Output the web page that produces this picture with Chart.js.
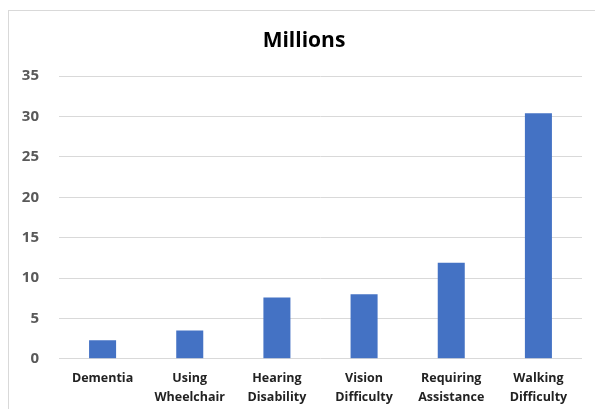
<!DOCTYPE html>
<html>
<head>
<meta charset="utf-8">
<script src="https://cdn.jsdelivr.net/npm/chart.js@4"></script>
<style>
  html, body { margin: 0; padding: 0; background: #fff; }
  #wrap { position: relative; width: 595px; height: 409px; overflow: hidden; }
  #frame { position: absolute; left: 8px; top: 10px; width: 620px; height: 440px;
           border-top: 1px solid #d9d9d9; border-left: 1px solid #d9d9d9; }
  canvas { position: absolute; left: 0; top: 0; }
</style>
</head>
<body>
<div id="wrap">
  <div id="frame"></div>
  <canvas id="chart" width="595" height="409"></canvas>
</div>
<script>
const categories = [
  ["Dementia"],
  ["Using", "Wheelchair"],
  ["Hearing", "Disability"],
  ["Vision", "Difficulty"],
  ["Requiring", "Assistance"],
  ["Walking", "Difficulty"]
];
const millions = [2.3, 3.5, 7.6, 8.0, 11.9, 30.4];
const yTicks = [0, 5, 10, 15, 20, 25, 30, 35];

Chart.defaults.font.family = "'Open Sans', 'Liberation Sans', sans-serif";

// title sits centred over the whole frame, not just the plot
const shiftTitle = {
  id: "shiftTitle",
  afterLayout(chart) {
    if (chart.titleBlock) chart.titleBlock.left += 24;
  }
};

const ctx = document.getElementById("chart").getContext("2d");
new Chart(ctx, {
  type: "bar",
  data: {
    labels: categories,
    datasets: [{
      label: "Millions",
      data: millions,
      backgroundColor: "#4472c4",
      categoryPercentage: 1,
      barPercentage: 0.31
    }]
  },
  plugins: [shiftTitle],
  options: {
    responsive: false,
    animation: false,
    layout: { padding: { left: 2, right: 13, top: 28, bottom: 0 } },
    plugins: {
      legend: { display: false },
      tooltip: { enabled: false },
      title: {
        display: true,
        text: "Millions",
        color: "#000",
        font: { size: 21, weight: "bold" },
        padding: { top: 0, bottom: 23 }
      }
    },
    scales: {
      x: {
        grid: { display: false },
        border: { display: false },
        ticks: {
          color: "#222",
          font: { size: 12.5, weight: "bold", lineHeight: 1.45 },
          padding: 3,
          maxRotation: 0,
          autoSkip: false
        }
      },
      y: {
        min: 0,
        max: 35,
        afterBuildTicks: axis => { axis.ticks = yTicks.map(v => ({ value: v })); },
        afterFit: axis => { axis.width = 57; },
        grid: { color: "#d9d9d9", drawTicks: false },
        border: { display: false },
        ticks: {
          color: "#595959",
          font: { size: 15, weight: "bold" },
          padding: 20
        }
      }
    }
  }
});
</script>
</body>
</html>
